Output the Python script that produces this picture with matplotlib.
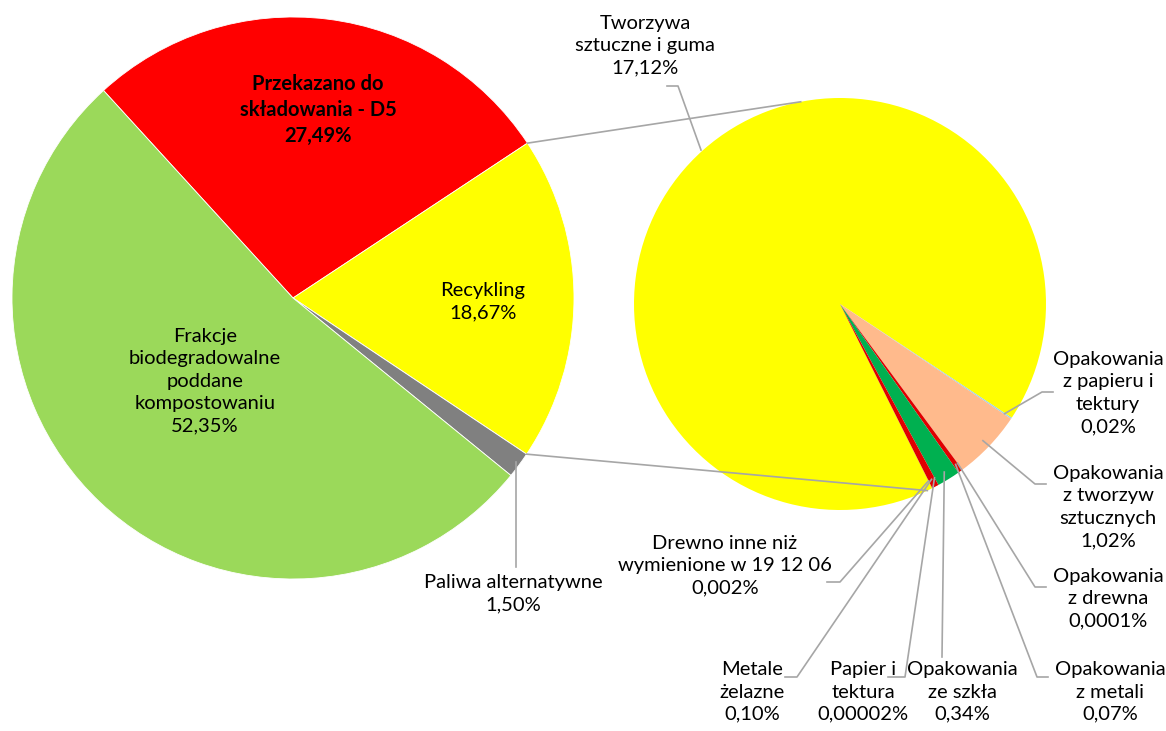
import numpy as np
import matplotlib
matplotlib.use("Agg")
import matplotlib.pyplot as plt

plt.rcParams['font.family'] = ['Lato', 'DejaVu Sans']

# main pie
main_names = ['Przekazano do\nskładowania - D5', 'Recykling',
              'Paliwa alternatywne',
              'Frakcje\nbiodegradowalne\npoddane\nkompostowaniu']
main_vals = [27.49, 18.67, 1.50, 52.35]
main_cols = ['#FF0000', '#FFFF00', '#808080', '#9BD95A']

# second pie (breakdown of "Recykling")
sub_names = ['Tworzywa\nsztuczne i guma', 'Opakowania\nz papieru i\ntektury',
             'Opakowania\nz tworzyw\nsztucznych', 'Opakowania\nz drewna',
             'Opakowania\nz metali', 'Opakowania\nze szkła',
             'Papier i\ntektura', 'Metale\nżelazne',
             'Drewno inne niż\nwymienione w 19 12 06']
sub_vals = [17.12, 0.02, 1.02, 0.0001, 0.07, 0.34, 0.00002, 0.10, 0.002]
sub_cols = ['#FFFF00', '#9DD3E6', '#FFBA8C', '#C55A11', '#E00000',
            '#00B050', '#BFBFBF', '#E00000', '#996633']


def fmt(v):
    s = f"{v:.5f}".rstrip('0')
    whole, dec = s.split('.')
    if len(dec) < 2:
        dec = dec.ljust(2, '0')
    return whole + ',' + dec + '%'


W, H = 1166, 731
fig = plt.figure(figsize=(W / 100, H / 100), dpi=100)
ax = fig.add_axes([0, 0, 1, 1])

c1 = (293, H - 298)
r1 = 281
c2 = (840, H - 304)
r2 = 206

start1 = 132.4
w1, _ = ax.pie(main_vals, colors=main_cols, startangle=start1, counterclock=False,
               center=c1, radius=r1, wedgeprops=dict(edgecolor='white', linewidth=0.6))

sub_tot = sum(sub_vals)
start2 = -33.5 + 360 * sub_vals[0] / sub_tot
w2, _ = ax.pie(sub_vals, colors=sub_cols, startangle=start2, counterclock=False,
               center=c2, radius=r2, wedgeprops=dict(linewidth=0))

ax.set_xlim(0, W)
ax.set_ylim(0, H)
ax.set_aspect('equal')
ax.axis('off')

lc = '#A6A6A6'
fs = 14.5
ls = 1.38


def edge(c, r, ang):
    a = np.radians(ang)
    return c[0] + r * np.cos(a), c[1] + r * np.sin(a)


# connectors between the two pies (edges of the Recykling slice)
wr = w1[1]
p_top = edge(c1, r1, wr.theta2)
p_bot = edge(c1, r1, wr.theta1)
q_top = edge(c2, r2, 101)
q_bot = edge(c2, r2, w2[0].theta2 - 1.5)
ax.plot([p_top[0], q_top[0]], [p_top[1], q_top[1]], color=lc, lw=1.2, zorder=3)
ax.plot([p_bot[0], q_bot[0]], [p_bot[1], q_bot[1]], color=lc, lw=1.2, zorder=3)

# labels on main pie
main_pos = [(318, 110), (483, 302), None, (205, 381)]
for i, (n, v) in enumerate(zip(main_names, main_vals)):
    txt = n + '\n' + fmt(v)
    if i == 2:
        w = w1[i]
        p = edge(c1, r1 * 0.985, (w.theta1 + w.theta2) / 2)
        ax.plot([p[0], p[0]], [p[1], H - 567], color=lc, lw=1.2)
        ax.text(513, H - 594, txt, ha='center', va='center', fontsize=fs,
                linespacing=ls)
        continue
    x, y = main_pos[i]
    ax.text(x, H - y, txt, ha='center', va='center', fontsize=fs,
            fontweight='bold' if i == 0 else 'normal', linespacing=ls)

# labels on second pie: text center, leader elbow, leader end
sub_lab = [
    ((645, 46), [(701, 150), (678, 86), (667, 86)]),
    ((1108, 393), [None, (1042, 392), (1053, 392)]),
    ((1108, 507), [None, (1035, 484), (1046, 484)]),
    ((1108, 599), [None, (1035, 587), (1046, 587)]),
    ((1110, 692), [None, (1037, 677), (1048, 677)]),
    ((962, 692), [None, (942, 657), (942, 657)]),
    ((863, 692), [None, (905, 677), (888, 677)]),
    ((752, 692), [None, (797, 677), (785, 677)]),
    ((725, 566), [None, (840, 582), (827, 582)]),
]
for i, (n, v) in enumerate(zip(sub_names, sub_vals)):
    (x, y), pts = sub_lab[i]
    w = w2[i]
    if pts[0] is None:
        p = edge(c2, r2 * 0.96, (w.theta1 + w.theta2) / 2)
    else:
        p = (pts[0][0], H - pts[0][1])
    xs = [p[0], pts[1][0], pts[2][0]]
    ys = [p[1], H - pts[1][1], H - pts[2][1]]
    ax.plot(xs, ys, color=lc, lw=1.2)
    ax.text(x, H - y, n + '\n' + fmt(v), ha='center', va='center',
            fontsize=fs, linespacing=ls)

fig.savefig('out.png', dpi=100)
